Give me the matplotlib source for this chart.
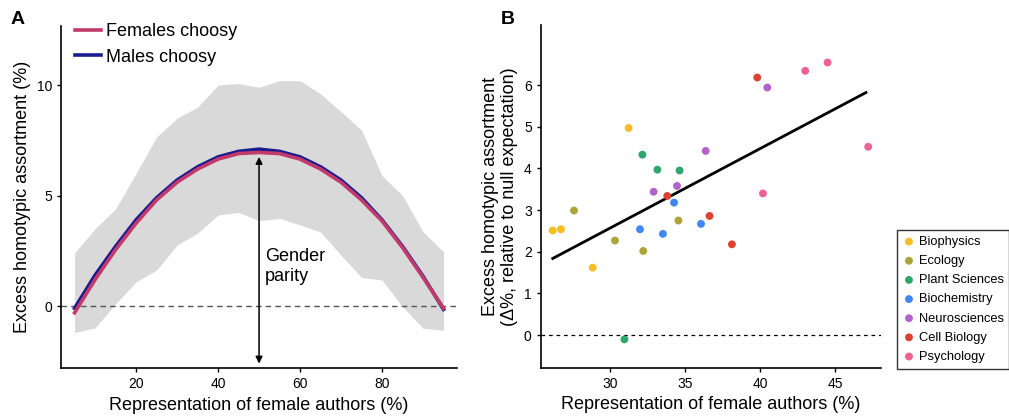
import numpy as np
import matplotlib
matplotlib.use('Agg')
import matplotlib.pyplot as plt

plt.rcParams['font.family'] = ['Liberation Sans', 'DejaVu Sans']

# ---- Panel A data ----
rep = [5, 10, 15, 20, 25, 30, 35, 40, 45, 50, 55, 60, 65, 70, 75, 80, 85, 90, 95]
males = [-0.1, 1.4, 2.7, 3.9, 4.9, 5.7, 6.3, 6.75, 7.0, 7.1, 7.0, 6.75, 6.3, 5.7, 4.9, 3.9, 2.7, 1.35, -0.15]
females = [-0.3, 1.2, 2.55, 3.75, 4.8, 5.6, 6.2, 6.65, 6.9, 6.95, 6.9, 6.65, 6.2, 5.6, 4.8, 3.85, 2.65, 1.3, -0.1]
band_hi = [2.4, 3.5, 4.4, 6.0, 7.65, 8.5, 9.0, 10.0, 10.07, 9.9, 10.2, 10.2, 9.6, 8.8, 7.96, 5.9, 5.0, 3.36, 2.46]
band_lo = [-1.2, -0.98, 0.1, 1.1, 1.63, 2.76, 3.3, 4.12, 4.24, 3.86, 3.97, 3.67, 3.36, 2.3, 1.3, 1.18, -0.03, -1.0, -1.09]

# ---- Panel B data ----
fields = ['Biophysics', 'Ecology', 'Plant Sciences', 'Biochemistry',
          'Neurosciences', 'Cell Biology', 'Psychology']
colors = ['#F8BC24', '#ABA43A', '#2DA76C', '#3F87F5', '#B462CB', '#DC4234', '#EE6193']
field_x = [
    [31.24, 26.18, 26.73, 28.85],
    [27.6, 30.33, 32.22, 34.56],
    [32.16, 33.16, 34.64, 30.96],
    [34.27, 32.0, 33.53, 36.07],
    [40.49, 36.38, 34.47, 32.91],
    [39.82, 33.82, 36.64, 38.13],
    [43.02, 44.51, 47.22, 40.2],
]
field_y = [
    [4.97, 2.51, 2.54, 1.62],
    [2.99, 2.27, 2.02, 2.75],
    [4.33, 3.97, 3.95, -0.10],
    [3.18, 2.54, 2.43, 2.67],
    [5.94, 4.42, 3.58, 3.44],
    [6.18, 3.34, 2.86, 2.18],
    [6.34, 6.54, 4.52, 3.40],
]
fit_x = [26.18, 47.07]
fit_y = [1.84, 5.82]

fig = plt.figure(figsize=(10.09, 4.2), dpi=100)
axA = fig.add_axes([0.0605, 0.1238, 0.3925, 0.8142])
axB = fig.add_axes([0.5359, 0.1245, 0.3372, 0.816])

# Panel A
axA.fill_between(rep, band_lo, band_hi, color='#d9d9d9', lw=0)
axA.axhline(0, color='#555555', ls=(0, (4, 3)), lw=1)
axA.plot(rep, males, color='#1b1b8f', lw=2.6, label='Males choosy')
axA.plot(rep, females, color='#c23a6c', lw=2.6, label='Females choosy')
axA.annotate('', xy=(50, 6.75), xytext=(50, -2.6),
             arrowprops=dict(arrowstyle='<|-|>', color='black', lw=1.1,
                             mutation_scale=10, shrinkA=0, shrinkB=0))
axA.text(51.5, 1.8, 'Gender\nparity', fontsize=13, va='center', ha='left', linespacing=1.2)
axA.set_xlim(1.7, 98.3)
axA.set_ylim(-2.8, 12.67)
axA.set_xticks([20, 40, 60, 80])
axA.set_yticks([0, 5, 10])
axA.set_xlabel('Representation of female authors (%)', fontsize=13)
axA.set_ylabel('Excess homotypic assortment (%)', fontsize=13)
h, l = axA.get_legend_handles_labels()
axA.legend(h[::-1], l[::-1], loc='upper left', bbox_to_anchor=(-0.005, 1.055), frameon=False,
           fontsize=13, handlelength=1.4, handletextpad=0.3, labelspacing=0.45)

# Panel B
axB.axhline(0, color='black', ls=(0, (3, 3)), lw=0.9)
for name, c, xs, ys in zip(fields, colors, field_x, field_y):
    axB.scatter(xs, ys, s=32, color=c, edgecolors='none', label=name, zorder=3)
axB.plot(fit_x, fit_y, color='black', lw=2, zorder=2)
axB.set_xlim(25.38, 48.07)
axB.set_ylim(-0.78, 7.44)
axB.set_xticks([30, 35, 40, 45])
axB.set_yticks([0, 1, 2, 3, 4, 5, 6])
axB.set_xlabel('Representation of female authors (%)', fontsize=13)
axB.set_ylabel('Excess homotypic assortment\n(\u0394%, relative to null expectation)', fontsize=13)
axB.legend(loc='upper left', bbox_to_anchor=(0.8887, 0.452), bbox_transform=fig.transFigure,
           borderaxespad=0, fontsize=9.3, frameon=True, fancybox=False, edgecolor='black',
           handlelength=1.0, handletextpad=0.25, labelspacing=0.55, markerscale=1.0,
           borderpad=0.45)

for ax in (axA, axB):
    for s in ('top', 'right'):
        ax.spines[s].set_visible(False)
    for s in ('left', 'bottom'):
        ax.spines[s].set_linewidth(1.2)
    ax.tick_params(labelsize=10, length=3, width=1)

fig.text(0.01, 0.975, 'A', fontsize=14, fontweight='bold', va='top')
fig.text(0.496, 0.975, 'B', fontsize=14, fontweight='bold', va='top')

fig.savefig('out.png', dpi=100)
